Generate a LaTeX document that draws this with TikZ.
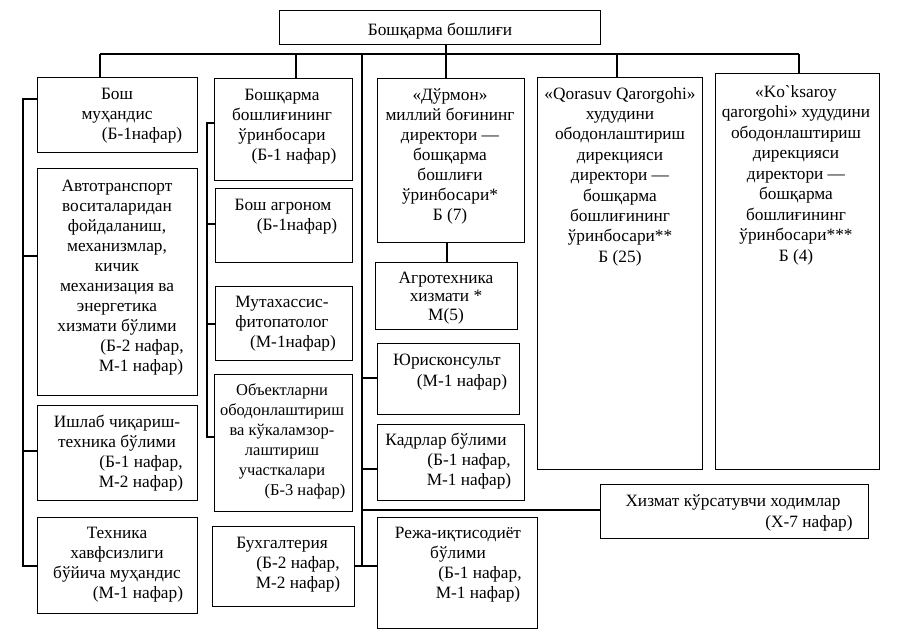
\documentclass[tikz,border=0pt]{standalone}
\usepackage{fontspec}
\setmainfont{Liberation Serif}[Ligatures=TeXOff]
\begin{document}
\begin{tikzpicture}[x=1pt,y=-1pt,
  box/.style={draw, line width=1.1pt, inner sep=0pt, anchor=north west},
  txt/.style={anchor=north, align=center, inner sep=0pt, font=\fontsize{17.3}{20}\selectfont},
  wire/.style={line width=1.1pt}]
\useasboundingbox (0,0) rectangle (899,641);
% ---------- boxes ----------
\node[box, minimum width=321pt, minimum height=34pt] (top) at (279,10) {};
\node[box, minimum width=160pt, minimum height=75pt] (b1) at (37,77) {};
\node[box, minimum width=160pt, minimum height=227pt] (avto) at (37,168) {};
\node[box, minimum width=160pt, minimum height=95pt] (ishlab) at (37,405) {};
\node[box, minimum width=160pt, minimum height=96pt] (tex) at (37,517) {};
\node[box, minimum width=138pt, minimum height=102pt] (b2) at (214,78) {};
\node[box, minimum width=137pt, minimum height=74pt] (agr) at (215,188) {};
\node[box, minimum width=137pt, minimum height=74pt] (mut) at (215,286) {};
\node[box, minimum width=138pt, minimum height=137pt] (obj) at (214,374) {};
\node[box, minimum width=142pt, minimum height=80pt] (bux) at (212,526) {};
\node[box, minimum width=147pt, minimum height=164pt] (dur) at (377,78) {};
\node[box, minimum width=142pt, minimum height=67pt] (agt) at (375,262) {};
\node[box, minimum width=142pt, minimum height=71pt] (yur) at (377,343) {};
\node[box, minimum width=147pt, minimum height=76pt] (kad) at (377,424) {};
\node[box, minimum width=160pt, minimum height=111pt] (reja) at (377,517) {};
\node[box, minimum width=165pt, minimum height=392pt] (qor) at (537,77) {};
\node[box, minimum width=164pt, minimum height=396pt] (kok) at (715,73) {};
\node[box, minimum width=268pt, minimum height=54pt] (xiz) at (600,484) {};
% ---------- texts ----------
\node[txt] (topt) at (440,35-14) {\strut Бошқарма бошлиғи};
\node[txt] (b1t) at (117,99-14) {\strut Бош\\муҳандис\\\hspace*{50pt}(Б-1нафар)};
\node[txt] (avtot) at (117,191-14) {\strut Автотранспорт\\воситаларидан\\фойдаланиш,\\механизмлар,\\кичик\\механизация ва\\энергетика\\хизмати бўлими\\\hspace*{50pt}(Б-2 нафар,\\\hspace*{48pt}М-1 нафар)};
\node[txt] (ishlabt) at (117,427-14) {\strut Ишлаб чиқариш-\\техника бўлими\\\hspace*{48pt}(Б-1 нафар,\\\hspace*{48pt}М-2 нафар)};
\node[txt] (text) at (117,538-14) {\strut Техника\\хавфсизлиги\\бўйича муҳандис\\\hspace*{42pt}(М-1 нафар)};
\node[txt] (b2t) at (282,100-14) {\strut Бошқарма\\бошлиғининг\\ўринбосари\\\hspace*{24pt}(Б-1 нафар)};
\node[txt] (agrt) at (283,210-14) {\strut Бош агроном\\\hspace*{28pt}(Б-1нафар)};
\node[txt] (mutt) at (282,307-14) {\strut Мутахассис-\\фитопатолог\\\hspace*{22pt}(М-1нафар)};
\node[txt, font=\fontsize{16.5}{20}\selectfont] (objt) at (282,395-14) {\strut Объектларни\\ободонлаштириш\\ва кўкаламзор-\\лаштириш\\участкалари\\\hspace*{46pt}(Б-3 нафар)};
\node[txt] (buxt) at (282,548-14) {\strut Бухгалтерия\\\hspace*{32pt}(Б-2 нафар,\\\hspace*{32pt}М-2 нафар)};
\node[txt] (durt) at (450,100-14) {\strut «Дўрмон»\\миллий боғининг\\директори —\\бошқарма\\бошлиғи\\ўринбосари*\\Б (7)};
\node[txt, font=\fontsize{17.3}{18.5}\selectfont] (agtt) at (446,283-13) {\strut Агротехника\\хизмати *\\М(5)};
\node[txt, font=\fontsize{17.3}{21}\selectfont] (yurt) at (447,365-14.7) {\strut Юрисконсульт\\\hspace*{30pt}(М-1 нафар)};
\node[txt] (kadt) at (446,445-14) {\strut Кадрлар бўлими\\\hspace*{46pt}(Б-1 нафар,\\\hspace*{46pt}М-1 нафар)};
\node[txt] (rejat) at (458,538-14) {\strut Режа-иқтисодиёт\\бўлими\\\hspace*{44pt}(Б-1 нафар,\\\hspace*{40pt}М-1 нафар)};
\node[txt, font=\fontsize{17.3}{20.4}\selectfont] (qort) at (620,99-14.3) {\strut «Qorasuv Qarorgohi»\\худудини\\ободонлаштириш\\дирекцияси\\директори —\\бошқарма\\бошлиғининг\\ўринбосари**\\Б (25)};
\node[txt, font=\fontsize{17.3}{20.5}\selectfont] (kokt) at (796,97-14.35) {\strut «Ko`ksaroy\\qarorgohi» худудини\\ободонлаштириш\\дирекцияси\\директори —\\бошқарма\\бошлиғининг\\ўринбосари***\\Б (4)};
\node[txt, font=\fontsize{17.3}{21}\selectfont] (xizt) at (733,506-14.7) {\strut Хизмат кўрсатувчи ходимлар\\\hspace*{152pt}(Х-7 нафар)};
% ---------- connectors ----------
\coordinate (busL) at (100,54);
\coordinate (busR) at (799,54);
\draw[wire] (busL) -- (busR);
\draw[wire] (busL) -- (busL |- b1.north);
\draw[wire] (296,54) -- (b2.north -| 296,0);
\draw[wire] (617,54) -- (qor.north -| 617,0);
\draw[wire] (busR) -- (busR |- kok.north);
\draw[wire] (top.south -| 446,0) -- (dur.north -| 446,0);
\draw[wire] (dur.south -| 447,0) -- (agt.north -| 447,0);
% left spine
\coordinate (lsTop) at (23,99);
\coordinate (lsBot) at (23,566);
\draw[wire] (b1.west |- lsTop) -- (lsTop) -- (lsBot) -- (tex.west |- lsBot);
\draw[wire] (23,256) -- (avto.west |- 0,256);
\draw[wire] (23,451) -- (ishlab.west |- 0,451);
% second spine
\coordinate (msTop) at (207,123);
\coordinate (msBot) at (207,437);
\draw[wire] (b2.west |- msTop) -- (msTop) -- (msBot) -- (obj.west |- msBot);
\draw[wire] (207,224) -- (agr.west |- 0,224);
\draw[wire] (207,324) -- (mut.west |- 0,324);
% third spine
\coordinate (rsTop) at (362,54);
\coordinate (rsBot) at (362,566);
\draw[wire] (rsTop) -- (rsBot);
\draw[wire] (362,378) -- (yur.west |- 0,378);
\draw[wire] (362,469) -- (kad.west |- 0,469);
\draw[wire] (362,510) -- (xiz.west |- 0,510);
\draw[wire] (bux.east |- rsBot) -- (reja.west |- rsBot);
\end{tikzpicture}
\end{document}
